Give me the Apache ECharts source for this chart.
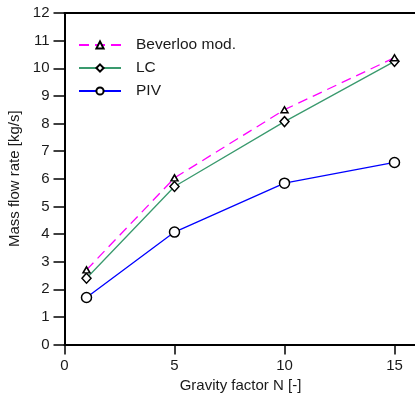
<!DOCTYPE html>
<html><head><meta charset="utf-8">
<script src="https://cdn.jsdelivr.net/npm/echarts@6/dist/echarts.min.js"></script>
<style>html,body{margin:0;padding:0;background:#fff}#c{width:415px;height:395px}</style>
</head><body><div id="c"></div>
<script>
const gravity = [1, 5, 10, 15];
const beverloo = [2.70, 6.03, 8.50, 10.38];
const lc = [2.40, 5.72, 8.07, 10.25];
const piv = [1.70, 4.07, 5.84, 6.59];
const xTicks = [0, 5, 10, 15];
const yTicks = [0,1,2,3,4,5,6,7,8,9,10,11,12];

const font = 'Liberation Sans, Arial, sans-serif';
const txt = '#1a1a1a';
const pairs = a => gravity.map((g, i) => [g, a[i]]);
const chart = echarts.init(document.getElementById('c'), null, {renderer: 'canvas'});
chart.setOption({
  animation: false,
  backgroundColor: '#fff',
  grid: {left: 64.5, top: 13, width: 352, height: 331.5, containLabel: false, outerBoundsMode: 'none'},
  legend: {
    left: 73, top: 32, orient: 'vertical', itemWidth: 42, itemHeight: 9, itemGap: 7,
    textStyle: {fontFamily: font, fontSize: 15.5, color: txt, padding: [0, 0, 0, 10]},
    data: ['Beverloo mod.', 'LC', 'PIV']
  },
  xAxis: [{
    type: 'value', min: 0, max: 16, interval: 5,
    name: 'Gravity factor N [-]', nameLocation: 'middle', nameGap: 34,
    nameTextStyle: {fontFamily: font, fontSize: 15, color: txt},
    axisLine: {show: true, lineStyle: {color: '#000', width: 2}},
    axisTick: {show: true, length: 10, lineStyle: {color: '#000', width: 1.5}},
    axisLabel: {fontFamily: font, fontSize: 15, color: txt, margin: 14,
      customValues: xTicks, formatter: v => String(v)},
    splitLine: {show: false}
  }, {
    type: 'value', position: 'top', min: 0, max: 16,
    axisLine: {show: true, lineStyle: {color: '#000', width: 2}},
    axisTick: {show: false}, axisLabel: {show: false}, splitLine: {show: false}
  }],
  yAxis: {
    type: 'value', min: 0, max: 12, interval: 1,
    name: 'Mass flow rate [kg/s]', nameLocation: 'middle', nameGap: 42,
    nameTextStyle: {fontFamily: font, fontSize: 15, color: txt},
    axisLine: {show: true, lineStyle: {color: '#000', width: 2}},
    axisTick: {show: true, length: 11, lineStyle: {color: '#000', width: 1.5}},
    axisLabel: {fontFamily: font, fontSize: 15, color: txt, margin: 15,
      customValues: yTicks, formatter: v => String(v)},
    splitLine: {show: false}
  },
  series: [
    {name: 'Beverloo mod.', type: 'line', data: pairs(beverloo), symbol: 'triangle', symbolSize: [7, 6],
     lineStyle: {color: '#ff00ff', width: 1.3, type: [10, 6]},
     itemStyle: {color: '#fff', borderColor: '#000', borderWidth: 1.5}, z: 3},
    {name: 'LC', type: 'line', data: pairs(lc), symbol: 'diamond', symbolSize: [9, 10],
     lineStyle: {color: '#3a9a6e', width: 1.3},
     itemStyle: {color: '#fff', borderColor: '#000', borderWidth: 1.5}, z: 2},
    {name: 'PIV', type: 'line', data: pairs(piv), symbol: 'circle', symbolSize: 10,
     lineStyle: {color: '#0000ff', width: 1.3},
     itemStyle: {color: '#fff', borderColor: '#000', borderWidth: 1.5}, z: 2}
  ]
});
</script></body></html>
